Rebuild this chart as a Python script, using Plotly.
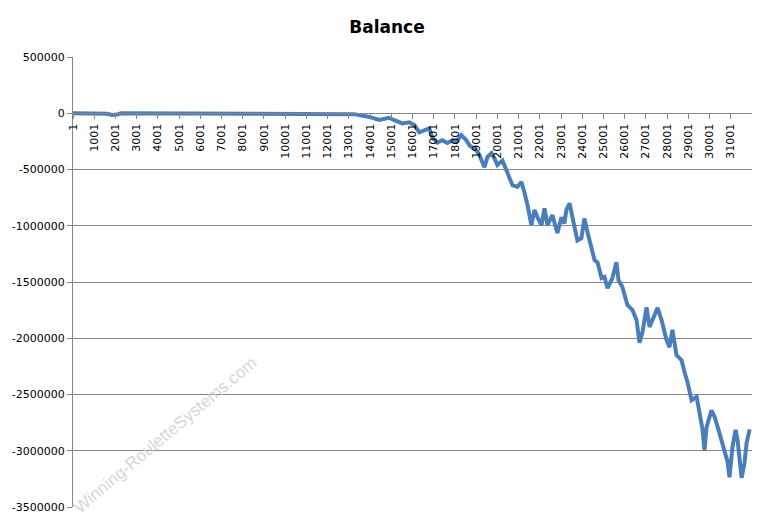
import plotly.graph_objects as go

# Balance (step number, balance)
steps = [1, 1000, 1600, 1840, 2080, 2260, 12780, 13250, 13730, 13960, 14430, 14900,
         15140, 15520, 15850, 16080, 16320, 16560, 16790, 16930, 17170, 17410, 17640,
         17880, 18070, 18300, 18540, 18680, 19010, 19150, 19390, 19530, 19720, 19860,
         20000, 20240, 20420, 20570, 20710, 20940, 21130, 21270, 21420, 21600, 21750,
         21890, 22080, 22220, 22360, 22590, 22830, 23020, 23160, 23250, 23400, 23540,
         23770, 23960, 24100, 24250, 24430, 24580, 24720, 24910, 25050, 25190, 25420,
         25610, 25710, 25890, 26130, 26370, 26560, 26700, 26840, 27030, 27170, 27310,
         27550, 27740, 27970, 28110, 28250, 28440, 28680, 28820, 28960, 29150, 29390,
         29530, 29670, 29760, 29860, 30090, 30240, 30470, 30710, 30850, 30940, 31080,
         31230, 31320, 31510, 31650, 31750, 31890]
balance = [0, 0, -5000, -15000, -12000, 0, 0, -8000, -25000, -33000, -60000, -40000,
           -62000, -90000, -80000, -105000, -170000, -150000, -135000, -215000, -260000,
           -240000, -265000, -240000, -255000, -195000, -240000, -285000, -330000,
           -370000, -480000, -390000, -355000, -400000, -460000, -420000, -505000,
           -570000, -640000, -655000, -610000, -700000, -815000, -995000, -860000,
           -925000, -995000, -845000, -995000, -905000, -1065000, -925000, -980000,
           -860000, -800000, -925000, -1130000, -1110000, -935000, -1060000, -1190000,
           -1305000, -1325000, -1465000, -1455000, -1555000, -1465000, -1325000,
           -1485000, -1545000, -1705000, -1750000, -1840000, -2040000, -1945000,
           -1725000, -1900000, -1840000, -1730000, -1840000, -2015000, -2080000,
           -1925000, -2150000, -2195000, -2300000, -2390000, -2550000, -2520000,
           -2665000, -2815000, -2995000, -2790000, -2640000, -2700000, -2845000,
           -3020000, -3100000, -3235000, -2965000, -2815000, -2905000, -3240000,
           -3105000, -2925000, -2810000]

x_ticks = list(range(1, 32001, 1000))
x_tick_labels = [str(v) for v in x_ticks]
y_ticks = list(range(-3500000, 500001, 500000))
y_tick_labels = [str(v) for v in y_ticks]

y_min, y_max = -3500000, 500000
zero_pos = (0 - y_min) / (y_max - y_min)

fig = go.Figure()
fig.add_trace(go.Scatter(x=steps, y=balance, mode="lines",
                         line=dict(color="#4A7EBB", width=4), hoverinfo="x+y",
                         showlegend=False))

fig.update_layout(
    width=758, height=516,
    margin=dict(l=65, r=14, t=49, b=17),
    paper_bgcolor="white", plot_bgcolor="white",
    title=dict(text="<b>Balance</b>", x=0.5, xanchor="center", y=0.963, yanchor="middle",
               font=dict(family="DejaVu Sans", size=17, color="black")),
    font=dict(family="DejaVu Sans", size=11, color="black"),
    xaxis=dict(range=[0, 32000], tickvals=x_ticks, ticktext=x_tick_labels,
               tickangle=-90, showgrid=False, zeroline=False,
               showline=True, linecolor="#868686", linewidth=1,
               ticks="outside", ticklen=5, tickcolor="#868686",
               anchor="free", position=zero_pos, automargin=False,
               tickfont=dict(family="DejaVu Sans", size=11, color="black")),
    yaxis=dict(range=[y_min, y_max], tickvals=y_ticks, ticktext=y_tick_labels,
               showgrid=True, gridcolor="#868686", gridwidth=1, zeroline=False,
               showline=True, linecolor="#868686", linewidth=1,
               ticks="outside", ticklen=5, tickcolor="#868686", automargin=False,
               tickfont=dict(family="DejaVu Sans", size=11, color="black")),
    annotations=[dict(text="Winning-RouletteSystems.com", xref="paper", yref="paper",
                      x=0.135, y=0.16, xanchor="center", yanchor="middle",
                      showarrow=False, textangle=-40,
                      font=dict(family="Liberation Sans", size=17, color="#D6D6D6"))],
)

fig.write_html("out.html")
